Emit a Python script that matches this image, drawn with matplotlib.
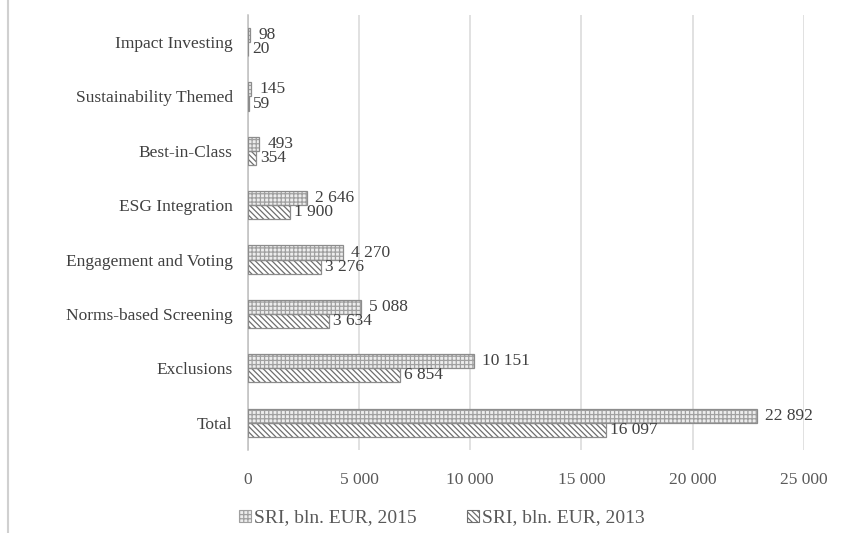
import matplotlib
matplotlib.use("Agg")
import matplotlib.pyplot as plt
from matplotlib.patches import Patch
from matplotlib.lines import Line2D
import numpy as np

categories = ["Impact Investing", "Sustainability Themed", "Best-in-Class",
              "ESG Integration", "Engagement and Voting", "Norms-based Screening",
              "Exclusions", "Total"]
sri_2015 = [98, 145, 493, 2646, 4270, 5088, 10151, 22892]
sri_2013 = [20, 59, 354, 1900, 3276, 3634, 6854, 16097]
series_labels = ["SRI, bln. EUR, 2015", "SRI, bln. EUR, 2013"]
x_ticks = [0, 5000, 10000, 15000, 20000, 25000]

plt.rcParams["font.family"] = ["Liberation Serif", "DejaVu Serif"]
plt.rcParams["hatch.linewidth"] = 0.9

fmt = lambda v: f"{v:,}".replace(",", " ")

fig = plt.figure(figsize=(8.55, 5.33), dpi=100)
ax = fig.add_axes([0.290, 0.156, 0.650, 0.816])

n = len(categories)
y = np.arange(n)[::-1].astype(float)  # first category at the top
h = 0.26

fill15, hatch15, edge15 = "#ededed", "#a0a0a0", "#8c8c8c"
fill13, hatch13, edge13 = "#ffffff", "#6e6e6e", "#8c8c8c"
pat15, pat13 = "++++", "\\\\\\\\\\\\"

# 2015: light checked pattern, 2013: downward diagonal lines
ax.barh(y + h / 2, sri_2015, height=h, color=fill15, edgecolor=hatch15,
        hatch=pat15, linewidth=0, zorder=3)
ax.barh(y + h / 2, sri_2015, height=h, fill=False, edgecolor=edge15,
        linewidth=0.9, zorder=4)
ax.barh(y - h / 2, sri_2013, height=h, color=fill13, edgecolor=hatch13,
        hatch=pat13, linewidth=0, zorder=3)
ax.barh(y - h / 2, sri_2013, height=h, fill=False, edgecolor=edge13,
        linewidth=0.9, zorder=4)

txt = "#404040"
for yi, v in zip(y, sri_2015):
    ax.annotate(fmt(v), (v, yi + h / 2), xytext=(6, 0), textcoords="offset points",
                va="center", ha="left", fontsize=12.5, color=txt, zorder=5)
for yi, v in zip(y, sri_2013):
    ax.annotate(fmt(v), (v, yi - h / 2), xytext=(3, 0), textcoords="offset points",
                va="center", ha="left", fontsize=12.5, color=txt, zorder=5)

ax.set_xlim(0, 25000)
ax.set_ylim(-0.5, n - 0.5)
ax.set_xticks(x_ticks)
ax.set_xticklabels([fmt(t) for t in x_ticks])
ax.set_yticks(y)
ax.set_yticklabels(categories)
ax.tick_params(axis="both", length=0, labelsize=12.5, labelcolor="#595959")
ax.tick_params(axis="y", pad=11, labelcolor=txt)
ax.tick_params(axis="x", pad=16)

ax.grid(axis="x", color="#d9d9d9", linewidth=1.1, zorder=0)
ax.set_axisbelow(True)
for s in ["top", "right", "bottom"]:
    ax.spines[s].set_visible(False)
ax.spines["left"].set_color("#bfbfbf")
ax.spines["left"].set_linewidth(1.1)

handles = [
    Patch(facecolor=fill15, edgecolor=hatch15, hatch=pat15, linewidth=0.8),
    Patch(facecolor=fill13, edgecolor=hatch13, hatch=pat13, linewidth=0.8),
]
fig.legend(handles, series_labels, loc="center", bbox_to_anchor=(0.517, 0.028),
           ncol=2, frameon=False, fontsize=14, handlelength=0.6,
           handleheight=0.6, handletextpad=0.15, columnspacing=2.6,
           labelcolor="#595959")

# chart-area border on the left edge
fig.add_artist(Line2D([8 / 855, 8 / 855], [0, 1], transform=fig.transFigure,
                      color="#d0d0d0", linewidth=1.5))

fig.savefig("out.png", dpi=100)
